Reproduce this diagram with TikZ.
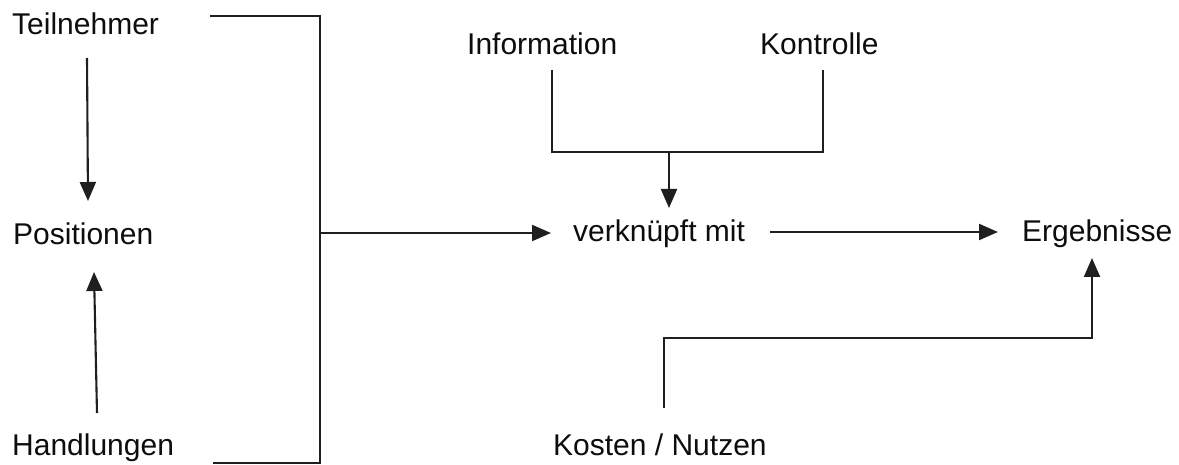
\documentclass[tikz,border=0pt]{standalone}
\usepackage{fontspec}
\setmainfont{Liberation Sans}
\usetikzlibrary{arrows.meta}
\begin{document}
\begin{tikzpicture}[x=1pt,y=-1pt,
  label/.style={anchor=base west,inner sep=0pt,font=\fontsize{30}{36}\selectfont,text=black!95},
  link/.style={line width=2.1pt,draw=black!88},
  flow/.style={link,-{Triangle[length=19pt,width=16pt]}}]
\useasboundingbox[fill=white] (0,0) rectangle (1179,465);

% labels
\node[label] (teil) at (12,35)  {Teilnehmer};
\node[label] (pos)  at (13,245) {Positionen};
\node[label] (hand) at (12,455) {Handlungen};
\node[label] (info) at (467,55) {Information};
\node[label] (kont) at (760,55) {Kontrolle};
\node[label] (verk) at (573,242) {verknüpft mit};
\node[label] (erg)  at (1022,242) {Ergebnisse};
\node[label] (kost) at (553,455) {Kosten / Nutzen};

% connector end points
\coordinate (teil-out) at (87,58);
\coordinate (pos-top)  at (88,201);
\coordinate (hand-out) at (97,413);
\coordinate (pos-bot)  at (94,272);
\coordinate (br-top)   at (210,16);
\coordinate (br-bot)   at (213,463);
\coordinate (br-mid)   at (320,233);
\coordinate (verk-in)  at (551,233);
\coordinate (info-out) at (552,70);
\coordinate (kont-out) at (823,70);
\coordinate (join)     at (669,152);
\coordinate (verk-top) at (669,208);
\coordinate (verk-out) at (770,232);
\coordinate (erg-in)   at (998,232);
\coordinate (kost-out) at (664,408);
\coordinate (kost-bend) at (1092,338);
\coordinate (erg-bot)  at (1092,258);

% left column
\draw[flow] (teil-out) -- (pos-top);
\draw[flow] (hand-out) -- (pos-bot);

% bracket gathering the left column
\draw[link] (br-top) -| (br-mid |- br-bot) -- (br-bot);
\draw[flow] (br-mid) -- (verk-in);

% information and control joined into one
\draw[link] (info-out) |- (join) -| (kont-out);
\draw[flow] (join) -- (verk-top);

% results
\draw[flow] (verk-out) -- (erg-in);
\draw[flow] (kost-out) |- (kost-bend) -- (erg-bot);
\end{tikzpicture}
\end{document}
